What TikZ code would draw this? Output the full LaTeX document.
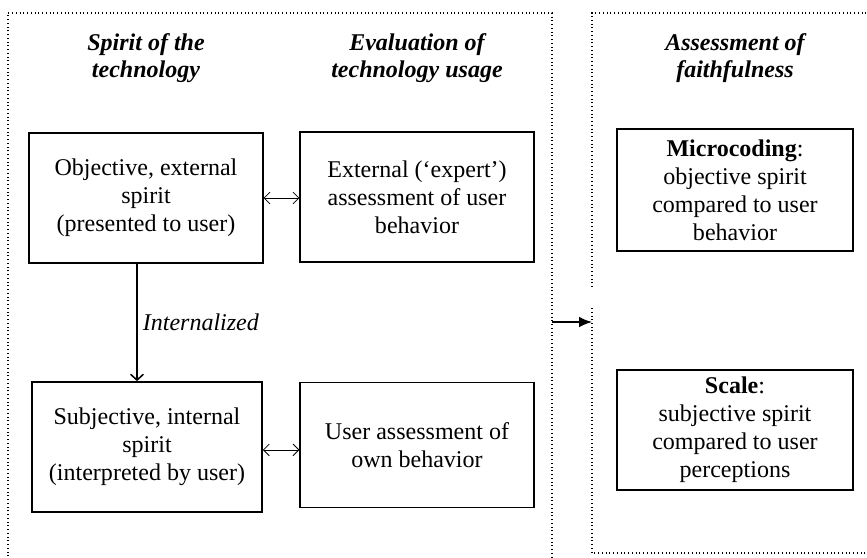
\documentclass[tikz,border=0pt]{standalone}
\usepackage{fontspec}
\setmainfont{Liberation Serif}
\usetikzlibrary{arrows.meta}
\begin{document}
\begin{tikzpicture}[x=0.03cm,y=-0.03cm,
        box/.style={draw,line width=1.5pt,minimum width=7cm,minimum height=3.9cm,
            inner sep=0pt,align=center,font=\fontsize{20.5}{23.8}\selectfont},
        head/.style={align=center,font=\fontsize{20.5}{23.5}\selectfont\bfseries\itshape},
        frame/.style={line width=1.2pt,dash pattern=on 0.8pt off 2.4pt},
        link/.style={line width=0.7pt,{Straight Barb[length=5pt,width=10pt]}-{Straight Barb[length=5pt,width=10pt]}}]
    \useasboundingbox (0,0) rectangle (867,557);
    % frames
    \draw[frame] (8,560)--(8,13)--(552,13)--(552,560);
    \draw[frame] (870,13)--(592,13)--(592,288);
    \draw[frame] (592,308)--(592,553)--(870,553);
    % column heads
    \foreach \x/\name/\txt in {146/hspirit/{Spirit of the\\technology},
            417/heval/{Evaluation of\\technology usage},
            735/hfaith/{Assessment of\\faithfulness}}
        \node[head] (\name) at (\x,58) {\txt};
    % boxes
    \node[box] (obj) at (146,198) {Objective, external\\spirit\\(presented to user)};
    \node[box] (expert) at (417,197) {External (‘expert’)\\assessment of user\\behavior};
    \node[box,minimum width=6.9cm] (subj) at (147,447) {Subjective, internal\\spirit\\(interpreted by user)};
    \node[box,minimum height=3.75cm] (own) at (417,445) {User assessment of\\own behavior};
    \node[box,minimum width=7.08cm,minimum height=3.65cm] (micro) at (735,190)
        {\textbf{Microcoding}:\\objective spirit\\compared to user\\behavior};
    \node[box,minimum width=7.08cm,minimum height=3.6cm] (scale) at (735,430)
        {\textbf{Scale}:\\subjective spirit\\compared to user\\perceptions};
    % connectors
    \draw[link] (obj.east) -- (obj.east -| expert.west);
    \draw[link] ([yshift=-2.5pt]subj.east) -- ([yshift=-2.5pt]subj.east -| own.west);
    \draw[line width=1.3pt,-{Straight Barb[length=5pt,width=11pt]}]
        ([xshift=-0.27cm]obj.south) -- ([xshift=-0.27cm]obj.south |- subj.north)
        node[midway,right=1pt,font=\fontsize{20.5}{24}\selectfont\itshape] (lint) {Internalized};
    \coordinate (outL) at (552,322);
    \coordinate (inR) at (592,322);
    \draw[line width=1.3pt,-{Latex[length=11pt,width=9pt]}] (outL) -- (inR);
\end{tikzpicture}
\end{document}
